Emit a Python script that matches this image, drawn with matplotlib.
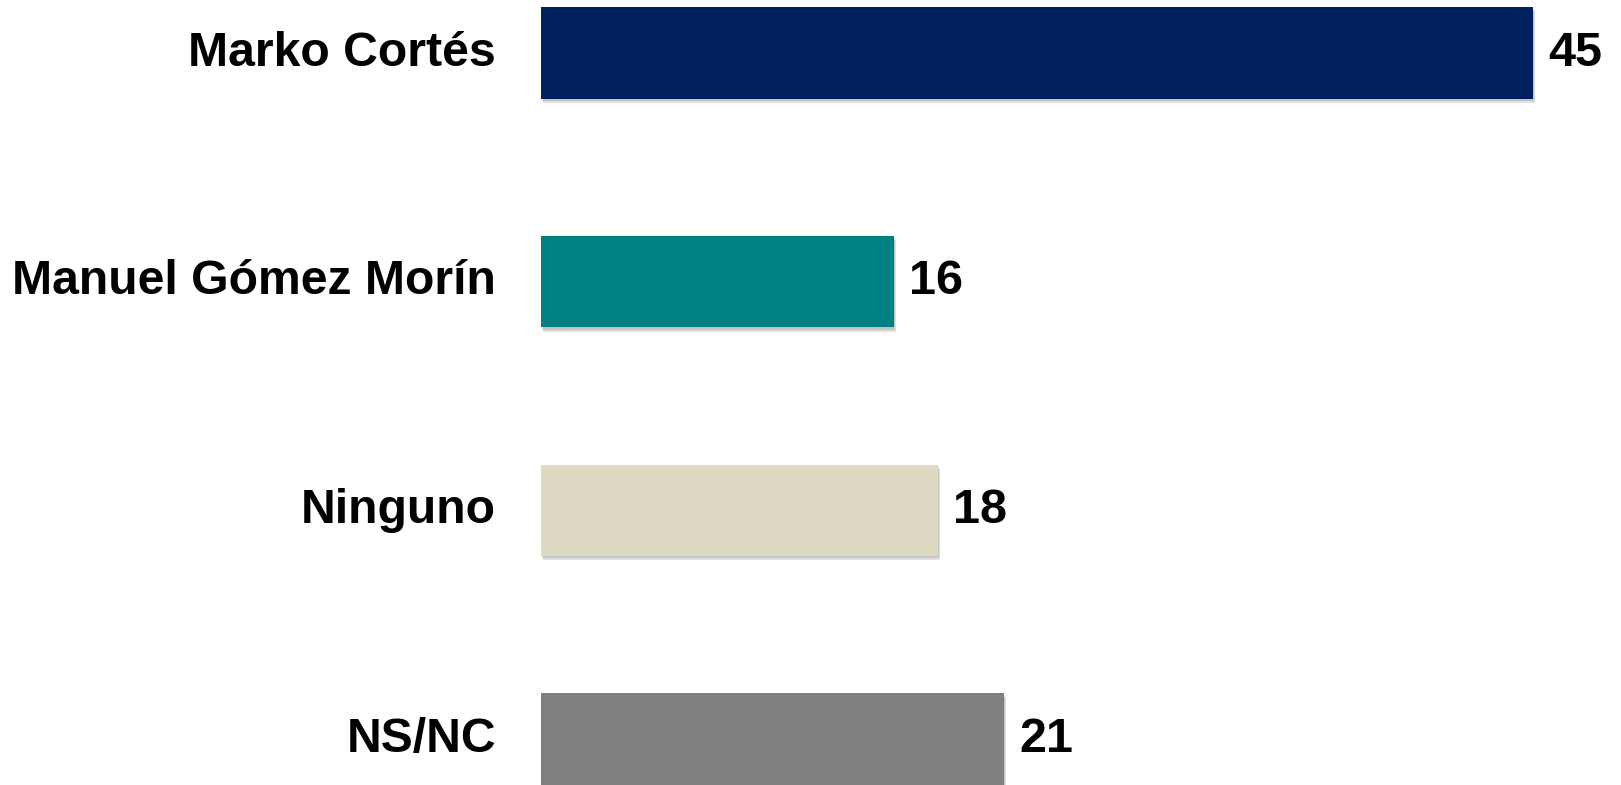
import matplotlib
matplotlib.use("Agg")
import matplotlib.pyplot as plt
import matplotlib.patheffects as pe

# data
candidatos = ["Marko Cortés", "Manuel Gómez Morín", "Ninguno", "NS/NC"]
valores = [45, 16, 18, 21]
colores = ["#002060", "#008080", "#DDD9C3", "#808080"]

plt.rcParams['font.family'] = ['Liberation Sans', 'DejaVu Sans']

fig = plt.figure(figsize=(16.21, 7.85), dpi=100)
ax = fig.add_axes([0, 0, 1, 1])

pos = list(range(len(candidatos)))
bars = ax.barh(pos, valores, height=0.4, color=colores)
# soft drop shadow like the original office chart
for b in bars:
    b.set_path_effects([pe.SimplePatchShadow(offset=(1.5, -3), shadow_rgbFace="#000000", alpha=0.12),
                        pe.SimplePatchShadow(offset=(1, -1.5), shadow_rgbFace="#000000", alpha=0.12),
                        pe.Normal()])

for p, v in zip(pos, valores):
    ax.text(v + 0.7, p, str(v), va="center", ha="left", fontsize=35, fontweight="bold")
for p, c in zip(pos, candidatos):
    ax.text(-2.05, p, c, va="center", ha="right", fontsize=34.7, fontweight="bold")

ax.set_xlim(-24.55, 49.0)
ax.set_ylim(3.201, -0.2318)
ax.axis("off")

fig.savefig("out.png", dpi=100)
